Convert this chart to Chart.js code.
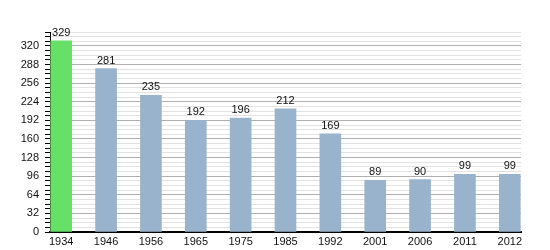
<!DOCTYPE html>
<html>
<head>
<meta charset="utf-8">
<script src="https://cdn.jsdelivr.net/npm/chart.js@4/dist/chart.umd.min.js"></script>
<style>
  html, body { margin: 0; padding: 0; background: #fff; }
  #wrap { width: 550px; height: 250px; }
</style>
</head>
<body>
<div id="wrap"><canvas id="popChart" width="550" height="250"></canvas></div>
<script>
const years = ['1934', '1946', '1956', '1965', '1975', '1985', '1992', '2001', '2006', '2011', '2012'];
const population = [329, 281, 235, 192, 196, 212, 169, 89, 90, 99, 99];
const barColors = ['#66e066', '#9ab3cc', '#9ab3cc', '#9ab3cc', '#9ab3cc', '#9ab3cc', '#9ab3cc', '#9ab3cc', '#9ab3cc', '#9ab3cc', '#9ab3cc'];

// value labels above each bar
const valueLabels = {
    id: 'valueLabels',
    afterDatasetsDraw(chart) {
        const ctx = chart.ctx;
        const meta = chart.getDatasetMeta(0);
        ctx.save();
        ctx.font = '11px "Liberation Sans", Arial, sans-serif';
        ctx.fillStyle = '#111';
        ctx.textAlign = 'center';
        ctx.textBaseline = 'alphabetic';
        meta.data.forEach((bar, i) => {
            ctx.fillText(String(population[i]), bar.x, bar.y - 5);
        });
        ctx.restore();
    }
};

const ctx = document.getElementById('popChart').getContext('2d');
new Chart(ctx, {
    type: 'bar',
    data: {
        datasets: [{
            data: population.map((v, i) => ({ x: i, y: v })),
            backgroundColor: barColors,
            borderWidth: 0,
            barThickness: 21
        }]
    },
    options: {
        responsive: false,
        animation: false,
        layout: { padding: { top: 32, right: 29, left: 0, bottom: 0 } },
        plugins: { legend: { display: false }, tooltip: { enabled: false } },
        scales: {
            x: {
                type: 'linear',
                offset: false,
                min: -0.25,
                max: 10.25,
                afterBuildTicks: axis => { axis.ticks = years.map((y, i) => ({ value: i })); },
                afterFit: axis => { axis.height = 18; },
                grid: { display: false, drawTicks: false },
                border: { display: true, color: '#000', width: 2 },
                ticks: {
                    autoSkip: false,
                    maxRotation: 0,
                    padding: 3,
                    color: '#111',
                    font: { family: '"Liberation Sans", Arial, sans-serif', size: 11 },
                    callback: v => years[v]
                }
            },
            y: {
                min: 0,
                max: 344,
                afterFit: axis => { axis.width = 50; },
                grid: {
                    color: c => (c.tick.value % 32 === 0 ? '#b0b0b0' : '#e2e2e2'),
                    lineWidth: 1,
                    drawTicks: true,
                    tickLength: 5,
                    tickColor: '#000'
                },
                border: { display: true, color: '#000', width: 1 },
                ticks: {
                    stepSize: 8,
                    autoSkip: false,
                    padding: 6,
                    color: '#111',
                    font: { family: '"Liberation Sans", Arial, sans-serif', size: 11 },
                    callback: v => (v % 32 === 0 ? String(v) : '')
                }
            }
        }
    },
    plugins: [valueLabels]
});
</script>
</body>
</html>
